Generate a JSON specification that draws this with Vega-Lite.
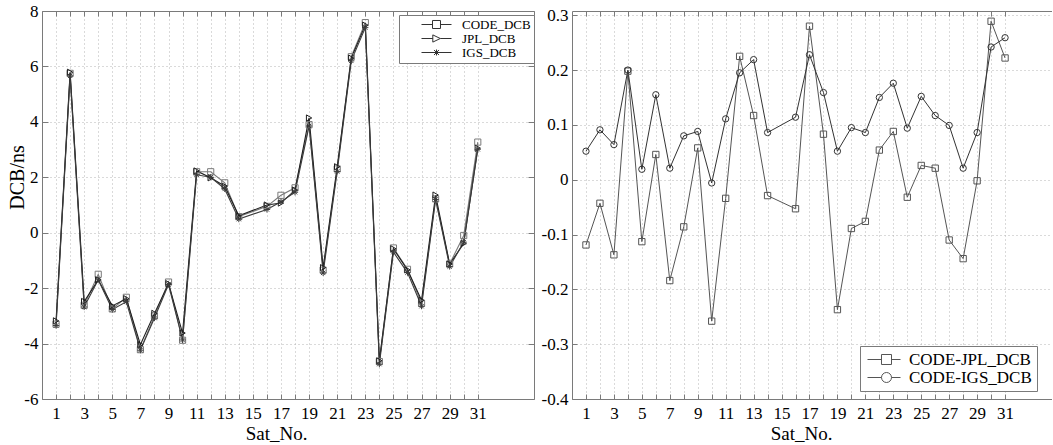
{
  "$schema": "https://vega.github.io/schema/vega-lite/v6.json",
  "background": "white",
  "padding": {"left": 7, "top": 2, "right": 0, "bottom": 0},
  "bounds": "flush",
  "spacing": 38,
  "config": {
    "font": "Liberation Serif",
    "view": {"stroke": null},
    "axis": {
      "labelFont": "Liberation Serif", "labelFontSize": 17, "labelColor": "black",
      "titleFont": "Liberation Serif", "titleFontSize": 19, "titleFontWeight": "normal", "titleColor": "black",
      "domainColor": "#7a7a7a", "tickColor": "#7a7a7a", "gridColor": "#b4b4b4", "gridDash": [1, 3], "gridWidth": 1,
      "labelOverlap": false, "labelFlush": false
    }
  },
  "resolve": {
    "scale": {"x": "independent", "y": "independent", "color": "independent", "shape": "independent"},
    "legend": {"shape": "independent", "color": "independent"}
  },
  "datasets": {
    "left": [
      {"sat": 1, "series": "CODE_DCB", "v": -3.30}, {"sat": 1, "series": "JPL_DCB", "v": -3.18}, {"sat": 1, "series": "IGS_DCB", "v": -3.35},
      {"sat": 2, "series": "CODE_DCB", "v": 5.75}, {"sat": 2, "series": "JPL_DCB", "v": 5.79}, {"sat": 2, "series": "IGS_DCB", "v": 5.66},
      {"sat": 3, "series": "CODE_DCB", "v": -2.62}, {"sat": 3, "series": "JPL_DCB", "v": -2.48}, {"sat": 3, "series": "IGS_DCB", "v": -2.68},
      {"sat": 4, "series": "CODE_DCB", "v": -1.50}, {"sat": 4, "series": "JPL_DCB", "v": -1.70}, {"sat": 4, "series": "IGS_DCB", "v": -1.70},
      {"sat": 5, "series": "CODE_DCB", "v": -2.75}, {"sat": 5, "series": "JPL_DCB", "v": -2.64}, {"sat": 5, "series": "IGS_DCB", "v": -2.77},
      {"sat": 6, "series": "CODE_DCB", "v": -2.33}, {"sat": 6, "series": "JPL_DCB", "v": -2.38}, {"sat": 6, "series": "IGS_DCB", "v": -2.49},
      {"sat": 7, "series": "CODE_DCB", "v": -4.22}, {"sat": 7, "series": "JPL_DCB", "v": -4.04}, {"sat": 7, "series": "IGS_DCB", "v": -4.24},
      {"sat": 8, "series": "CODE_DCB", "v": -3.00}, {"sat": 8, "series": "JPL_DCB", "v": -2.91}, {"sat": 8, "series": "IGS_DCB", "v": -3.08},
      {"sat": 9, "series": "CODE_DCB", "v": -1.78}, {"sat": 9, "series": "JPL_DCB", "v": -1.84}, {"sat": 9, "series": "IGS_DCB", "v": -1.87},
      {"sat": 10, "series": "CODE_DCB", "v": -3.88}, {"sat": 10, "series": "JPL_DCB", "v": -3.62}, {"sat": 10, "series": "IGS_DCB", "v": -3.87},
      {"sat": 11, "series": "CODE_DCB", "v": 2.20}, {"sat": 11, "series": "JPL_DCB", "v": 2.23}, {"sat": 11, "series": "IGS_DCB", "v": 2.09},
      {"sat": 12, "series": "CODE_DCB", "v": 2.20}, {"sat": 12, "series": "JPL_DCB", "v": 1.98}, {"sat": 12, "series": "IGS_DCB", "v": 2.00},
      {"sat": 13, "series": "CODE_DCB", "v": 1.80}, {"sat": 13, "series": "JPL_DCB", "v": 1.68}, {"sat": 13, "series": "IGS_DCB", "v": 1.58},
      {"sat": 14, "series": "CODE_DCB", "v": 0.58}, {"sat": 14, "series": "JPL_DCB", "v": 0.61}, {"sat": 14, "series": "IGS_DCB", "v": 0.49},
      {"sat": 16, "series": "CODE_DCB", "v": 0.95}, {"sat": 16, "series": "JPL_DCB", "v": 1.00}, {"sat": 16, "series": "IGS_DCB", "v": 0.84},
      {"sat": 17, "series": "CODE_DCB", "v": 1.35}, {"sat": 17, "series": "JPL_DCB", "v": 1.07}, {"sat": 17, "series": "IGS_DCB", "v": 1.12},
      {"sat": 18, "series": "CODE_DCB", "v": 1.62}, {"sat": 18, "series": "JPL_DCB", "v": 1.54}, {"sat": 18, "series": "IGS_DCB", "v": 1.46},
      {"sat": 19, "series": "CODE_DCB", "v": 3.90}, {"sat": 19, "series": "JPL_DCB", "v": 4.14}, {"sat": 19, "series": "IGS_DCB", "v": 3.85},
      {"sat": 20, "series": "CODE_DCB", "v": -1.35}, {"sat": 20, "series": "JPL_DCB", "v": -1.26}, {"sat": 20, "series": "IGS_DCB", "v": -1.45},
      {"sat": 21, "series": "CODE_DCB", "v": 2.30}, {"sat": 21, "series": "JPL_DCB", "v": 2.38}, {"sat": 21, "series": "IGS_DCB", "v": 2.21},
      {"sat": 22, "series": "CODE_DCB", "v": 6.35}, {"sat": 22, "series": "JPL_DCB", "v": 6.30}, {"sat": 22, "series": "IGS_DCB", "v": 6.20},
      {"sat": 23, "series": "CODE_DCB", "v": 7.58}, {"sat": 23, "series": "JPL_DCB", "v": 7.49}, {"sat": 23, "series": "IGS_DCB", "v": 7.40},
      {"sat": 24, "series": "CODE_DCB", "v": -4.65}, {"sat": 24, "series": "JPL_DCB", "v": -4.62}, {"sat": 24, "series": "IGS_DCB", "v": -4.74},
      {"sat": 25, "series": "CODE_DCB", "v": -0.55}, {"sat": 25, "series": "JPL_DCB", "v": -0.58}, {"sat": 25, "series": "IGS_DCB", "v": -0.70},
      {"sat": 26, "series": "CODE_DCB", "v": -1.32}, {"sat": 26, "series": "JPL_DCB", "v": -1.34}, {"sat": 26, "series": "IGS_DCB", "v": -1.44},
      {"sat": 27, "series": "CODE_DCB", "v": -2.55}, {"sat": 27, "series": "JPL_DCB", "v": -2.44}, {"sat": 27, "series": "IGS_DCB", "v": -2.65},
      {"sat": 28, "series": "CODE_DCB", "v": 1.22}, {"sat": 28, "series": "JPL_DCB", "v": 1.36}, {"sat": 28, "series": "IGS_DCB", "v": 1.20},
      {"sat": 29, "series": "CODE_DCB", "v": -1.13}, {"sat": 29, "series": "JPL_DCB", "v": -1.13}, {"sat": 29, "series": "IGS_DCB", "v": -1.22},
      {"sat": 30, "series": "CODE_DCB", "v": -0.10}, {"sat": 30, "series": "JPL_DCB", "v": -0.39}, {"sat": 30, "series": "IGS_DCB", "v": -0.34},
      {"sat": 31, "series": "CODE_DCB", "v": 3.27}, {"sat": 31, "series": "JPL_DCB", "v": 3.05}, {"sat": 31, "series": "IGS_DCB", "v": 3.01}
    ],
    "right": [
      {"sat": 1, "series": "CODE-JPL_DCB", "v": -0.119}, {"sat": 1, "series": "CODE-IGS_DCB", "v": 0.052},
      {"sat": 2, "series": "CODE-JPL_DCB", "v": -0.043}, {"sat": 2, "series": "CODE-IGS_DCB", "v": 0.091},
      {"sat": 3, "series": "CODE-JPL_DCB", "v": -0.137}, {"sat": 3, "series": "CODE-IGS_DCB", "v": 0.064},
      {"sat": 4, "series": "CODE-JPL_DCB", "v": 0.198}, {"sat": 4, "series": "CODE-IGS_DCB", "v": 0.200},
      {"sat": 5, "series": "CODE-JPL_DCB", "v": -0.113}, {"sat": 5, "series": "CODE-IGS_DCB", "v": 0.019},
      {"sat": 6, "series": "CODE-JPL_DCB", "v": 0.046}, {"sat": 6, "series": "CODE-IGS_DCB", "v": 0.155},
      {"sat": 7, "series": "CODE-JPL_DCB", "v": -0.184}, {"sat": 7, "series": "CODE-IGS_DCB", "v": 0.021},
      {"sat": 8, "series": "CODE-JPL_DCB", "v": -0.086}, {"sat": 8, "series": "CODE-IGS_DCB", "v": 0.080},
      {"sat": 9, "series": "CODE-JPL_DCB", "v": 0.058}, {"sat": 9, "series": "CODE-IGS_DCB", "v": 0.088},
      {"sat": 10, "series": "CODE-JPL_DCB", "v": -0.258}, {"sat": 10, "series": "CODE-IGS_DCB", "v": -0.006},
      {"sat": 11, "series": "CODE-JPL_DCB", "v": -0.034}, {"sat": 11, "series": "CODE-IGS_DCB", "v": 0.111},
      {"sat": 12, "series": "CODE-JPL_DCB", "v": 0.225}, {"sat": 12, "series": "CODE-IGS_DCB", "v": 0.195},
      {"sat": 13, "series": "CODE-JPL_DCB", "v": 0.117}, {"sat": 13, "series": "CODE-IGS_DCB", "v": 0.219},
      {"sat": 14, "series": "CODE-JPL_DCB", "v": -0.029}, {"sat": 14, "series": "CODE-IGS_DCB", "v": 0.086},
      {"sat": 16, "series": "CODE-JPL_DCB", "v": -0.053}, {"sat": 16, "series": "CODE-IGS_DCB", "v": 0.114},
      {"sat": 17, "series": "CODE-JPL_DCB", "v": 0.280}, {"sat": 17, "series": "CODE-IGS_DCB", "v": 0.228},
      {"sat": 18, "series": "CODE-JPL_DCB", "v": 0.083}, {"sat": 18, "series": "CODE-IGS_DCB", "v": 0.159},
      {"sat": 19, "series": "CODE-JPL_DCB", "v": -0.237}, {"sat": 19, "series": "CODE-IGS_DCB", "v": 0.052},
      {"sat": 20, "series": "CODE-JPL_DCB", "v": -0.089}, {"sat": 20, "series": "CODE-IGS_DCB", "v": 0.095},
      {"sat": 21, "series": "CODE-JPL_DCB", "v": -0.076}, {"sat": 21, "series": "CODE-IGS_DCB", "v": 0.086},
      {"sat": 22, "series": "CODE-JPL_DCB", "v": 0.054}, {"sat": 22, "series": "CODE-IGS_DCB", "v": 0.150},
      {"sat": 23, "series": "CODE-JPL_DCB", "v": 0.088}, {"sat": 23, "series": "CODE-IGS_DCB", "v": 0.176},
      {"sat": 24, "series": "CODE-JPL_DCB", "v": -0.032}, {"sat": 24, "series": "CODE-IGS_DCB", "v": 0.094},
      {"sat": 25, "series": "CODE-JPL_DCB", "v": 0.026}, {"sat": 25, "series": "CODE-IGS_DCB", "v": 0.152},
      {"sat": 26, "series": "CODE-JPL_DCB", "v": 0.021}, {"sat": 26, "series": "CODE-IGS_DCB", "v": 0.117},
      {"sat": 27, "series": "CODE-JPL_DCB", "v": -0.110}, {"sat": 27, "series": "CODE-IGS_DCB", "v": 0.099},
      {"sat": 28, "series": "CODE-JPL_DCB", "v": -0.144}, {"sat": 28, "series": "CODE-IGS_DCB", "v": 0.021},
      {"sat": 29, "series": "CODE-JPL_DCB", "v": -0.002}, {"sat": 29, "series": "CODE-IGS_DCB", "v": 0.086},
      {"sat": 30, "series": "CODE-JPL_DCB", "v": 0.289}, {"sat": 30, "series": "CODE-IGS_DCB", "v": 0.242},
      {"sat": 31, "series": "CODE-JPL_DCB", "v": 0.222}, {"sat": 31, "series": "CODE-IGS_DCB", "v": 0.259}
    ]
  },
  "hconcat": [
    {
      "width": 492,
      "height": 388,
      "data": {"name": "left"},
      "resolve": {"scale": {"shape": "independent"}, "legend": {"shape": "independent"}},
      "layer": [
        {
          "mark": {"type": "line", "strokeWidth": 1.1},
          "encoding": {
            "x": {"field": "sat", "type": "quantitative", "scale": {"domain": [0, 35], "nice": false, "zero": false},
              "axis": {"orient": "bottom", "values": [1,2,3,4,5,6,7,8,9,10,11,12,13,14,15,16,17,18,19,20,21,22,23,24,25,26,27,28,29,30,31],
                "labelExpr": "datum.value % 2 == 1 ? '' + datum.value : ''", "grid": true, "tickSize": -5, "labelPadding": 11,
                "title": "Sat_No.", "titleX": 234, "titlePadding": 3}},
            "y": {"field": "v", "type": "quantitative", "scale": {"domain": [-6, 8], "nice": false, "zero": false},
              "axis": {"orient": "left", "values": [-6,-4,-2,0,2,4,6,8], "labelExpr": "'' + datum.value", "grid": true,
                "tickSize": -6, "labelPadding": 10, "title": "DCB/ns", "titleY": 166, "titlePadding": -4, "titleFontSize": 20}},
            "color": {"field": "series", "type": "nominal", "legend": null,
              "scale": {"domain": ["CODE_DCB", "JPL_DCB", "IGS_DCB"], "range": ["#7a7a7a", "#1e1e1e", "#3c3c3c"]}},
            "detail": {"field": "series"}
          }
        },
        {
          "mark": {"type": "point", "filled": false, "size": 38, "strokeWidth": 1, "opacity": 1},
          "encoding": {
            "x": {"field": "sat", "type": "quantitative",
              "axis": {"orient": "top", "values": [1,2,3,4,5,6,7,8,9,10,11,12,13,14,15,16,17,18,19,20,21,22,23,24,25,26,27,28,29,30,31],
                "labels": false, "grid": false, "tickSize": -5, "title": null}},
            "y": {"field": "v", "type": "quantitative",
              "axis": {"orient": "right", "values": [-6,-4,-2,0,2,4,6,8], "labels": false, "grid": false, "tickSize": -6, "title": null}},
            "color": {"field": "series", "type": "nominal", "legend": null,
              "scale": {"domain": ["CODE_DCB", "JPL_DCB", "IGS_DCB"], "range": ["#7a7a7a", "#1e1e1e", "#3c3c3c"]}},
            "shape": {"field": "series", "type": "nominal", "legend": null,
              "scale": {"domain": ["CODE_DCB", "JPL_DCB", "IGS_DCB"], "range": ["square", "triangle-right", "M-1,0L1,0M0,-1L0,1M-0.7,-0.7L0.7,0.7M-0.7,0.7L0.7,-0.7"]}}
          }
        },
        {
          "mark": {"type": "point", "filled": false, "opacity": 0, "color": "#333333", "size": 10},
          "encoding": {
            "x": {"field": "sat", "type": "quantitative", "axis": null},
            "y": {"field": "v", "type": "quantitative", "axis": null},
            "shape": {"field": "series", "type": "nominal",
              "scale": {"domain": ["CODE_DCB", "JPL_DCB", "IGS_DCB"], "range": [
                "M2.167,0L4,0M5.333,0L7.167,0M4,-0.667L5.333,-0.667L5.333,0.667L4,0.667Z",
                "M2.167,0L4.05,0M5.3,0L7.167,0M4.05,-0.6L5.3,0L4.05,0.6Z",
                "M2.167,0L7.167,0M4.667,-0.5L4.667,0.5M4.25,-0.42L5.08,0.42M4.25,0.42L5.08,-0.42"]},
              "legend": {
                "orient": "none", "legendX": 357, "legendY": 4, "title": null, "padding": 3, "rowPadding": 0,
                "symbolSize": 144, "symbolStrokeWidth": 1, "symbolOpacity": 1, "symbolStrokeColor": "#333333", "symbolFillColor": "transparent",
                "labelFont": "Liberation Serif", "labelFontSize": 13, "labelColor": "black",
                "labelOffset": 47, "strokeColor": "#7a7a7a", "fillColor": "white"
              }
            }
          }
        }
      ]
    },
    {
      "width": 480,
      "height": 388,
      "data": {"name": "right"},
      "resolve": {"scale": {"shape": "independent"}, "legend": {"shape": "independent"}},
      "layer": [
        {
          "mark": {"type": "line", "strokeWidth": 1},
          "encoding": {
            "x": {"field": "sat", "type": "quantitative", "scale": {"domain": [0, 34.36], "nice": false, "zero": false},
              "axis": {"orient": "bottom", "values": [1,2,3,4,5,6,7,8,9,10,11,12,13,14,15,16,17,18,19,20,21,22,23,24,25,26,27,28,29,30,31],
                "labelExpr": "datum.value % 2 == 1 ? '' + datum.value : ''", "grid": true, "tickSize": -5, "labelPadding": 11,
                "title": "Sat_No.", "titleX": 229, "titlePadding": 3}},
            "y": {"field": "v", "type": "quantitative", "scale": {"domain": [-0.4, 0.3077], "nice": false, "zero": false},
              "axis": {"orient": "left", "values": [-0.4,-0.3,-0.2,-0.1,0,0.1,0.2,0.3], "labelExpr": "'' + datum.value", "grid": true,
                "tickSize": -5, "labelPadding": 9, "title": null}},
            "color": {"field": "series", "type": "nominal", "legend": null,
              "scale": {"domain": ["CODE-JPL_DCB", "CODE-IGS_DCB"], "range": ["#555555", "#333333"]}},
            "detail": {"field": "series"}
          }
        },
        {
          "mark": {"type": "point", "filled": false, "size": 40, "strokeWidth": 1, "opacity": 1},
          "encoding": {
            "x": {"field": "sat", "type": "quantitative",
              "axis": {"orient": "top", "values": [1,2,3,4,5,6,7,8,9,10,11,12,13,14,15,16,17,18,19,20,21,22,23,24,25,26,27,28,29,30,31],
                "labels": false, "grid": false, "tickSize": -5, "title": null}},
            "y": {"field": "v", "type": "quantitative",
              "axis": {"orient": "right", "labels": false, "ticks": false, "domain": false, "grid": false, "title": null}},
            "color": {"field": "series", "type": "nominal", "legend": null,
              "scale": {"domain": ["CODE-JPL_DCB", "CODE-IGS_DCB"], "range": ["#555555", "#333333"]}},
            "shape": {"field": "series", "type": "nominal", "legend": null,
              "scale": {"domain": ["CODE-JPL_DCB", "CODE-IGS_DCB"], "range": ["square", "circle"]}}
          }
        },
        {
          "mark": {"type": "point", "filled": false, "opacity": 0, "color": "#555555", "size": 10},
          "encoding": {
            "x": {"field": "sat", "type": "quantitative", "axis": null},
            "y": {"field": "v", "type": "quantitative", "axis": null},
            "shape": {"field": "series", "type": "nominal",
              "scale": {"domain": ["CODE-JPL_DCB", "CODE-IGS_DCB"], "range": [
                "M-1,0L1.333,0M3,0L4.5,0M1.333,-0.833L3,-0.833L3,0.833L1.333,0.833Z",
                "M-1,0L1.333,0M3,0L4.5,0M3,0A0.833,0.833,0,1,1,1.333,0A0.833,0.833,0,1,1,3,0Z"]},
              "legend": {
                "orient": "none", "legendX": 288, "legendY": 335, "title": null, "padding": 5, "rowPadding": 0,
                "symbolSize": 144, "symbolStrokeWidth": 1, "symbolOpacity": 1, "symbolStrokeColor": "#555555", "symbolFillColor": "transparent",
                "labelFont": "Liberation Serif", "labelFontSize": 17, "labelColor": "black",
                "labelOffset": 27, "strokeColor": "#7a7a7a", "fillColor": "white"
              }
            }
          }
        }
      ]
    }
  ]
}
